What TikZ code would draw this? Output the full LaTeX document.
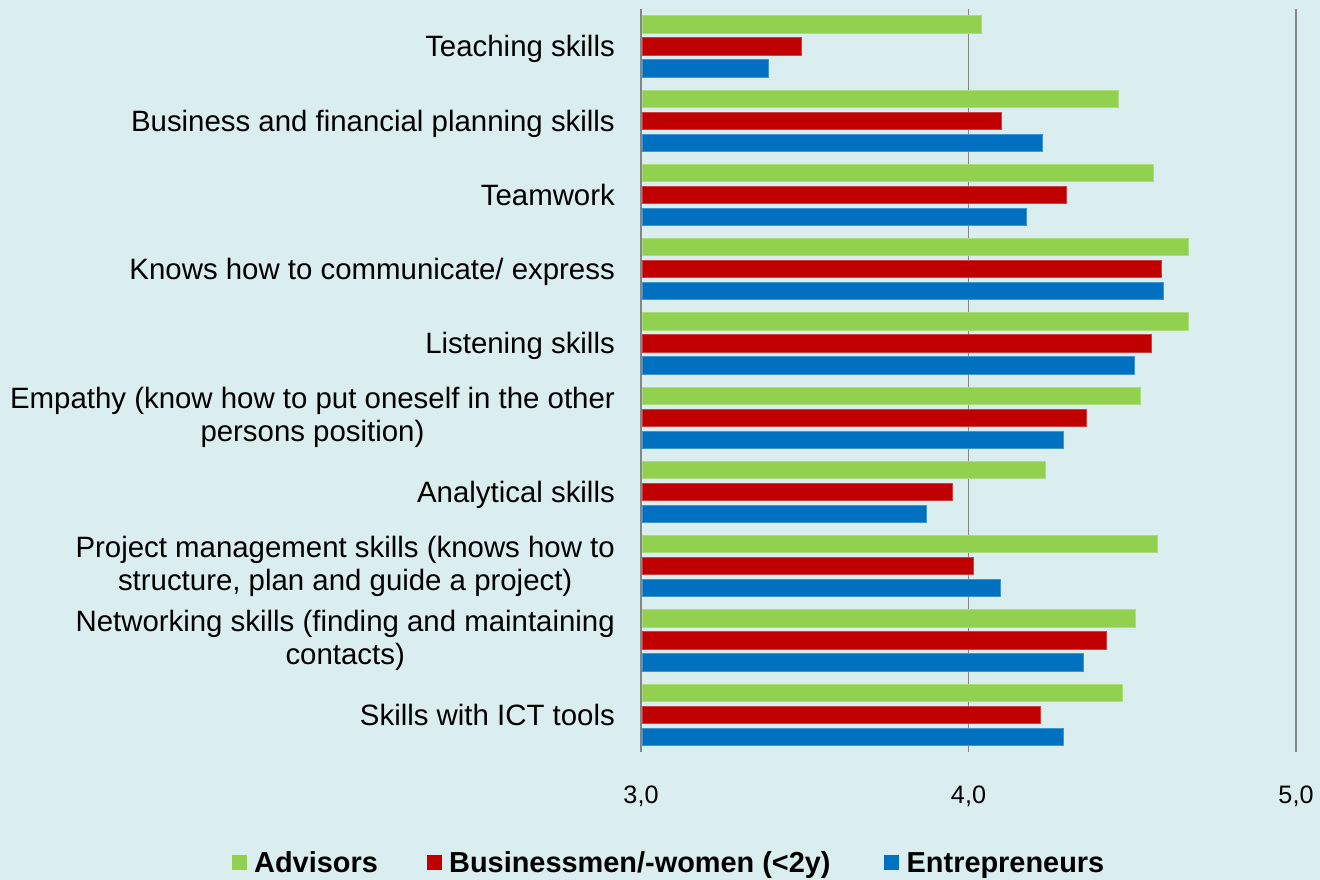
\documentclass[tikz,border=0pt]{standalone}
\usepackage{fontspec}
\setmainfont{Liberation Sans}
\definecolor{bg}{RGB}{218,237,239}
\definecolor{advgreen}{RGB}{146,208,80}
\definecolor{busred}{RGB}{192,0,0}
\definecolor{entblue}{RGB}{0,112,192}
\definecolor{gridgray}{RGB}{134,134,134}
\begin{document}
\begin{tikzpicture}[x=1pt,y=-1pt,
  gridline/.style={draw=gridgray, line width=1.8pt},
  lab/.style={anchor=base east, align=center, inner sep=0pt, font=\fontsize{29.4}{33}\selectfont},
  labtwo/.style={anchor=east, align=center, inner sep=0pt, font=\fontsize{29.4}{33}\selectfont},
  tick/.style={anchor=base, inner sep=0pt, font=\fontsize{25.2}{28}\selectfont},
  legtext/.style={anchor=base west, inner sep=0pt, font=\fontsize{28.9}{33}\selectfont\bfseries},
  legsq/.style={minimum size=15pt, inner sep=0pt, draw=none},
  bar/.style={line width=0.6pt}]
\fill[bg] (0,0) rectangle (1320,880);
\useasboundingbox (0,0) rectangle (1320,880);

% grid lines
\coordinate (g3t) at (641,9);   \coordinate (g3b) at (641,752);
\coordinate (g4t) at (968.5,9); \coordinate (g4b) at (968.5,752);
\coordinate (g5t) at (1296,9);  \coordinate (g5b) at (1296,752);
\draw[gridline] (g3t) -- (g3b);
\draw[gridline] (g4t) -- (g4b);
\draw[gridline] (g5t) -- (g5b);

% bars
\foreach \i/\g/\r/\b in {0/4.04/3.49/3.39, 1/4.458/4.10/4.225, 2/4.564/4.30/4.176,
  3/4.67/4.59/4.595, 4/4.67/4.558/4.506, 5/4.524/4.36/4.29, 6/4.235/3.95/3.87,
  7/4.576/4.016/4.096, 8/4.51/4.42/4.35, 9/4.47/4.22/4.29} {
  \pgfmathsetmacro\tp{9+74.25*\i}
  \fill[advgreen, draw=advgreen!75!white, bar] (642,{\tp+6.7}) rectangle ({641+327.5*(\g-3)},{\tp+24});
  \fill[busred, draw=busred!75!white, bar] (642,{\tp+28.7}) rectangle ({641+327.5*(\r-3)},{\tp+46});
  \fill[entblue, draw=entblue!75!white, bar] (642,{\tp+50.7}) rectangle ({641+327.5*(\b-3)},{\tp+68});
}

% category labels
\node[lab] (l0) at (615,56.8) {Teaching skills};
\node[lab] (l1) at (615,131.1) {Business and financial planning skills};
\node[lab] (l2) at (615,205.3) {Teamwork};
\node[lab] (l3) at (615,279.6) {Knows how to communicate/ express};
\node[lab] (l4) at (615,353.8) {Listening skills};
\node[labtwo] (l5) at (615,417.4) {Empathy (know how to put oneself in the other\\persons position)};
\node[lab] (l6) at (615,502.3) {Analytical skills};
\node[labtwo] (l7) at (615,565.9) {Project management skills (knows how to\\structure, plan and guide a project)};
\node[labtwo] (l8) at (615,640.1) {Networking skills (finding and maintaining\\contacts)};
\node[lab] (l9) at (615,725.1) {Skills with ICT tools};

% tick labels
\node[tick] (t3) at (641,803.5) {3,0};
\node[tick] (t4) at (968.5,803.5) {4,0};
\node[tick] (t5) at (1296,803.5) {5,0};

% legend
\node[legsq, fill=advgreen] (ka) at (239.5,862.5) {};
\node[legtext] (ta) at (254,872.7) {Advisors};
\node[legsq, fill=busred] (kb) at (434.5,862.5) {};
\node[legtext] (tb) at (449,872.7) {Businessmen/-women (<2y)};
\node[legsq, fill=entblue] (kc) at (891.5,862.5) {};
\node[legtext] (tc) at (906.5,872.7) {Entrepreneurs};
\end{tikzpicture}
\end{document}
